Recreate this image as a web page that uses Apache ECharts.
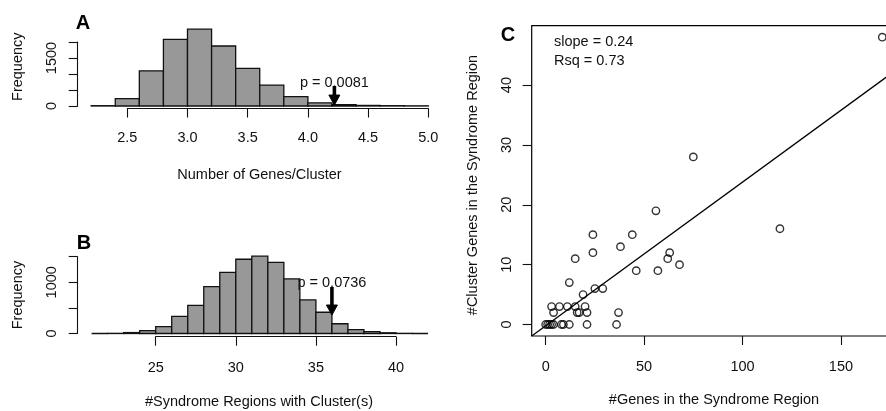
<!DOCTYPE html>
<html>
<head>
<meta charset="utf-8">
<script src="https://cdn.jsdelivr.net/npm/echarts@6/dist/echarts.min.js"></script>
<style>
  html, body { margin: 0; padding: 0; background: #ffffff; }
  #main { width: 886px; height: 411px; }
</style>
</head>
<body>
<div id="main"></div>
<script>
// ---- Panel A: permuted number of genes per cluster ----
const binEdgesA = [2.2, 2.4, 2.6, 2.8, 3.0, 3.2, 3.4, 3.6, 3.8, 4.0, 4.2, 4.4, 4.6, 4.8, 5.0];
const countsA   = [10, 230, 1100, 2080, 2400, 1875, 1175, 655, 290, 100, 45, 18, 10, 5];
const ticksXA   = [2.5, 3.0, 3.5, 4.0, 4.5, 5.0];
const ticksYA   = [0, 500, 1000, 1500, 2000];
const labelsYA  = [0, 1500];
const observedA = 4.22;
const pValueA   = '0.0081';

// ---- Panel B: permuted number of syndrome regions with clusters ----
const binEdgesB = [21, 22, 23, 24, 25, 26, 27, 28, 29, 30, 31, 32, 33, 34, 35, 36, 37, 38, 39, 40, 41, 42];
const countsB   = [0, 3, 18, 55, 135, 335, 550, 915, 1195, 1450, 1510, 1390, 1065, 655, 415, 190, 75, 35, 14, 3, 0];
const ticksXB   = [25, 30, 35, 40];
const ticksYB   = [0, 500, 1000, 1500];
const labelsYB  = [0, 1000];
const observedB = 36;
const pValueB   = '0.0736';

// ---- Panel C: genes vs. cluster genes per syndrome region ----
const genesInRegion = [0, 1, 2, 3, 4, 8, 9, 12, 21, 36,
                       4, 16, 17, 21, 37,
                       3, 7, 11, 15, 20,
                       19, 25, 29, 12, 46, 57, 68, 15, 62, 24, 63, 38, 24, 44, 119, 56, 75, 171];
const clusterGenes  = [0, 0, 0, 0, 0, 0, 0, 0, 0, 0,
                       2, 2, 2, 2, 2,
                       3, 3, 3, 3, 3,
                       5, 6, 6, 7, 9, 9, 10, 11, 11, 12, 12, 13, 15, 15, 16, 19, 28, 48];
const ticksXC = [0, 50, 100, 150];
const ticksYC = [0, 10, 20, 30, 40];
const fitSlope = 0.24;
const fitIntercept = -0.2;
const fitRsq = 0.73;

const FONT = '"Liberation Sans", Arial, Helvetica, sans-serif';
const FS = 14.5;
const INK = '#111111';

function histData(edges, counts) {
  return counts.map((c, i) => [edges[i], edges[i + 1], c]);
}

function renderBin(params, api) {
  const p0 = api.coord([api.value(0), 0]);
  const p1 = api.coord([api.value(1), api.value(2)]);
  return {
    type: 'rect',
    shape: { x: p0[0], y: p1[1], width: p1[0] - p0[0], height: p0[1] - p1[1] },
    style: { fill: '#989898', stroke: '#111111', lineWidth: 1.3 }
  };
}

// arrow pointing down at the observed value, with the p-value above it
function makeArrowRenderer(text) {
  return function (params, api) {
    const x = api.value(0);
    const top = api.coord([x, api.value(1)]);
    const tip = api.coord([x, api.value(2)]);
    const lab = api.coord([x, api.value(3)]);
    const head = 10, half = 5.5;
    return {
      type: 'group',
      children: [
        { type: 'text', x: lab[0], y: lab[1],
          style: { text: text, font: FS + 'px ' + FONT, fill: INK,
                   align: 'center', verticalAlign: 'middle',
                   textAlign: 'center', textVerticalAlign: 'middle' } },
        { type: 'line', shape: { x1: top[0], y1: top[1], x2: tip[0], y2: tip[1] - head + 2 },
          style: { stroke: '#000', lineWidth: 3.6 } },
        { type: 'polygon', shape: { points: [[tip[0] - half, tip[1] - head], [tip[0] + half, tip[1] - head], [tip[0], tip[1]]] },
          style: { fill: '#000', stroke: '#000', lineWidth: 1 } }
      ]
    };
  };
}

const axisFont = { fontFamily: FONT, fontSize: FS, color: INK };
const tickStyle = { show: true, length: 9, lineStyle: { color: INK, width: 1.1 } };
const lineStyle = { show: true, onZero: false, lineStyle: { color: INK, width: 1.1 } };
const plain = v => String(v);

function histXAxis(gridIndex, min, max, ticks, offset, margin, fmt) {
  return {
    gridIndex, type: 'value', min, max, offset,
    axisLine: lineStyle,
    axisTick: Object.assign({ customValues: ticks }, tickStyle),
    axisLabel: Object.assign({ customValues: ticks, margin, formatter: fmt }, axisFont),
    splitLine: { show: false }
  };
}
function histYAxis(gridIndex, min, max, ticks, labels, offset) {
  return {
    gridIndex, type: 'value', min, max, offset,
    axisLine: lineStyle,
    axisTick: Object.assign({ customValues: ticks }, tickStyle),
    axisLabel: Object.assign({ customValues: labels, rotate: 90, margin: 18.5, formatter: plain }, axisFont),
    splitLine: { show: false }
  };
}

const scatterData = genesInRegion.map((g, i) => [g, clusterGenes[i]]);
const xMinC = -7.1, xMaxC = 180, yMinC = -1.92, yMaxC = 49.92;
const fitLine = [[xMinC, fitIntercept + fitSlope * xMinC], [xMaxC, fitIntercept + fitSlope * xMaxC]];

function titleText(text, x, y, rot) {
  return {
    type: 'text', x, y, rotation: rot || 0, silent: true,
    style: { text, font: FS + 'px ' + FONT, fill: INK,
             align: 'center', verticalAlign: 'middle',
             textAlign: 'center', textVerticalAlign: 'middle' }
  };
}
function letter(text, x, y) {
  return {
    type: 'text', x, y, silent: true,
    style: { text, font: 'bold 20px ' + FONT, fill: '#000',
             align: 'center', verticalAlign: 'middle',
             textAlign: 'center', textVerticalAlign: 'middle' }
  };
}
function noteText(text, x, y) {
  return {
    type: 'text', x, y, silent: true,
    style: { text, font: FS + 'px ' + FONT, fill: INK,
             align: 'left', verticalAlign: 'middle',
             textAlign: 'left', textVerticalAlign: 'middle' }
  };
}

const chart = echarts.init(document.getElementById('main'), null, { renderer: 'canvas' });
chart.setOption({
  animation: false,
  backgroundColor: '#ffffff',
  grid: [
    { left: 127.3, top: 42, width: 301, height: 64, outerBoundsMode: 'none', containLabel: false },
    { left: 155.7, top: 256.7, width: 240.3, height: 76.8, outerBoundsMode: 'none', containLabel: false },
    { left: 531.7, top: 25.7, width: 368.3, height: 310.3, outerBoundsMode: 'none', containLabel: false,
      show: true, borderColor: '#000', borderWidth: 1.2, backgroundColor: 'transparent' }
  ],
  xAxis: [
    histXAxis(0, 2.5, 5.0, ticksXA, 2.5, 22, v => v.toFixed(1)),
    histXAxis(1, 25, 40, ticksXB, 3.2, 23.5, plain),
    { gridIndex: 2, type: 'value', min: xMinC, max: xMaxC, position: 'bottom',
      axisLine: { show: false, onZero: false },
      axisTick: Object.assign({ customValues: ticksXC }, tickStyle),
      axisLabel: Object.assign({ customValues: ticksXC, margin: 23.5, formatter: plain }, axisFont),
      splitLine: { show: false } }
  ],
  yAxis: [
    histYAxis(0, 0, 2000, ticksYA, labelsYA, 49.6),
    histYAxis(1, 0, 1500, ticksYB, labelsYB, 78),
    { gridIndex: 2, type: 'value', min: yMinC, max: yMaxC, position: 'left',
      axisLine: { show: false, onZero: false },
      axisTick: Object.assign({ customValues: ticksYC }, tickStyle),
      axisLabel: Object.assign({ customValues: ticksYC, rotate: 90, margin: 17.5, formatter: plain }, axisFont),
      splitLine: { show: false } }
  ],
  series: [
    { type: 'custom', xAxisIndex: 0, yAxisIndex: 0, clip: false,
      data: histData(binEdgesA, countsA), encode: { x: [0, 1], y: 2 }, renderItem: renderBin },
    { type: 'custom', xAxisIndex: 0, yAxisIndex: 0, clip: false, z: 5,
      data: [[observedA, 625, 30, 719]], encode: { x: 0, y: [1, 2, 3] },
      renderItem: makeArrowRenderer('p = ' + pValueA) },
    { type: 'custom', xAxisIndex: 1, yAxisIndex: 1, clip: false,
      data: histData(binEdgesB, countsB), encode: { x: [0, 1], y: 2 }, renderItem: renderBin },
    { type: 'custom', xAxisIndex: 1, yAxisIndex: 1, clip: false, z: 5,
      data: [[observedB, 908, 361, 986]], encode: { x: 0, y: [1, 2, 3] },
      renderItem: makeArrowRenderer('p = ' + pValueB) },
    { type: 'scatter', xAxisIndex: 2, yAxisIndex: 2, data: scatterData,
      symbol: 'circle', symbolSize: 7.4,
      itemStyle: { color: 'rgba(0,0,0,0)', borderColor: '#000', borderWidth: 1.4 } },
    { type: 'line', xAxisIndex: 2, yAxisIndex: 2, data: fitLine, symbol: 'none', clip: true,
      lineStyle: { color: '#000', width: 1.3 } }
  ],
  graphic: [
    letter('A', 83, 23),
    letter('B', 84, 243),
    letter('C', 508, 35),
    titleText('Frequency', 18, 66.7, Math.PI / 2),
    titleText('Frequency', 18, 295, Math.PI / 2),
    titleText('Number of Genes/Cluster', 259.5, 175),
    titleText('#Syndrome Regions with Cluster(s)', 259, 402),
    titleText('#Genes in the Syndrome Region', 714, 400),
    titleText('#Cluster Genes in the Syndrome Region', 473, 185, Math.PI / 2),
    noteText('slope = ' + fitSlope.toFixed(2), 554, 42.3),
    noteText('Rsq = ' + fitRsq.toFixed(2), 554, 60.7)
  ]
});
</script>
</body>
</html>
